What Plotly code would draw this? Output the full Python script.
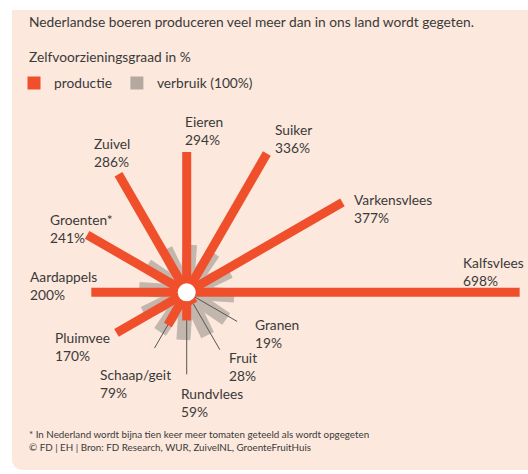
import numpy as np
import plotly.graph_objects as go

# ---------------- data ----------------
categories = ["Eieren", "Suiker", "Varkensvlees", "Kalfsvlees", "Granen", "Fruit",
              "Rundvlees", "Schaap/geit", "Pluimvee", "Aardappels", "Groenten*", "Zuivel"]
productie = [294, 336, 377, 698, 19, 28, 59, 79, 170, 200, 241, 286]
verbruik = [100, 100, 100, 100, 100, 100, 100, 100, 100, 100, 100, 100]

title_text = "Nederlandse boeren produceren veel meer dan in ons land wordt gegeten."
subtitle_text = "Zelfvoorzieningsgraad in %"
legend_names = ["productie", "verbruik (100%)"]
footnotes = ["* In Nederland wordt bijna tien keer meer tomaten geteeld als wordt opgegeten",
             "© FD | EH | Bron: FD Research, WUR, ZuivelNL, GroenteFruitHuis"]

# ---------------- layout / style ----------------
W, H = 528, 474
CX, CY = 186.7, 292.3          # centre of the star in pixels
K = 0.477                      # pixels per percent
ORANGE = "#F04F2C"
GREY = "#C3B6AD"
LEGEND_GREY = "#B5A8A0"
PANEL = "#FCE8DC"
TEXT = "#3A3A3A"
FONT = "Lato"
FS = 13.75
GREY_OFFSET_DEG = 4

# label anchor (left x, middle y) in pixels
LABEL_POS = {
    "Eieren": (183, 130), "Suiker": (273, 138), "Varkensvlees": (352, 208),
    "Kalfsvlees": (461, 271), "Granen": (253, 333), "Fruit": (227, 366),
    "Rundvlees": (179, 402), "Schaap/geit": (98, 383), "Pluimvee": (53, 346),
    "Aardappels": (28, 285), "Groenten*": (48, 228), "Zuivel": (92, 153),
}
# leader lines: category -> outer radius (percent units)
LEADER_END = {"Granen": 122, "Fruit": 139, "Rundvlees": 172, "Schaap/geit": 135}

n = len(categories)
step = 360.0 / n
angles = np.radians([90 - i * step for i in range(n)])
angles_grey = np.radians([90 - i * step - GREY_OFFSET_DEG for i in range(n)])


def segs(r0s, r1s, angs):
    xs, ys = [], []
    for a, b, t in zip(r0s, r1s, angs):
        xs += [a * np.cos(t), b * np.cos(t), None]
        ys += [a * np.sin(t), b * np.sin(t), None]
    return xs, ys


fig = go.Figure()

gx, gy = segs([0] * n, verbruik, angles_grey)
fig.add_trace(go.Scatter(x=gx, y=gy, mode="lines", line=dict(color=GREY, width=14),
                         showlegend=False, hoverinfo="skip"))

ox, oy = segs([0] * n, productie, angles)
fig.add_trace(go.Scatter(x=ox, y=oy, mode="lines", line=dict(color=ORANGE, width=9),
                         showlegend=False, hoverinfo="skip"))

lead_idx = [categories.index(c) for c in LEADER_END]
lx, ly = segs([productie[i] for i in lead_idx], list(LEADER_END.values()),
              [angles[i] for i in lead_idx])
fig.add_trace(go.Scatter(x=lx, y=ly, mode="lines", line=dict(color="#555555", width=1),
                         showlegend=False, hoverinfo="skip"))

fig.add_trace(go.Scatter(x=[0], y=[0], mode="markers",
                         marker=dict(size=18, color="white"),
                         showlegend=False, hoverinfo="skip"))

# legend entries
fig.add_trace(go.Scatter(x=[None], y=[None], mode="markers", name=legend_names[0],
                         marker=dict(symbol="square", size=13, color=ORANGE)))
fig.add_trace(go.Scatter(x=[None], y=[None], mode="markers", name=legend_names[1],
                         marker=dict(symbol="square", size=13, color=LEGEND_GREY)))


def px(x):
    return x / W


def py(y):
    return 1 - y / H


annotations = []
for cat, val in zip(categories, productie):
    x, y = LABEL_POS[cat]
    annotations.append(dict(x=px(x), y=py(y), xref="paper", yref="paper",
                            text=f"{cat}<br>{val}%", showarrow=False,
                            xanchor="left", yanchor="middle", align="left",
                            font=dict(family=FONT, size=FS, color=TEXT)))
annotations.append(dict(x=px(27), y=py(22), xref="paper", yref="paper", text=title_text,
                        showarrow=False, xanchor="left", yanchor="middle",
                        font=dict(family=FONT, size=FS, color=TEXT)))
annotations.append(dict(x=px(27), y=py(56), xref="paper", yref="paper", text=subtitle_text,
                        showarrow=False, xanchor="left", yanchor="middle",
                        font=dict(family=FONT, size=FS, color=TEXT)))
annotations.append(dict(x=px(27), y=py(440), xref="paper", yref="paper",
                        text="<br>".join(footnotes), showarrow=False,
                        xanchor="left", yanchor="middle", align="left",
                        font=dict(family=FONT, size=9.8, color=TEXT)))

L, T, B, RAD = 12, 10, 470, 12
panel_path = (f"M {px(L)},{py(T)} L 1.05,{py(T)} L 1.05,{py(B)} L {px(L + RAD)},{py(B)} "
              f"Q {px(L)},{py(B)} {px(L)},{py(B - RAD)} Z")

fig.update_layout(
    width=W, height=H, margin=dict(l=0, r=0, t=0, b=0),
    paper_bgcolor="white", plot_bgcolor="rgba(0,0,0,0)",
    xaxis=dict(range=[-CX / K, (W - CX) / K], visible=False, fixedrange=True),
    yaxis=dict(range=[-(H - CY) / K, CY / K], visible=False, fixedrange=True),
    shapes=[dict(type="path", path=panel_path, xref="paper", yref="paper",
                 fillcolor=PANEL, line=dict(width=0), layer="below")],
    annotations=annotations,
    legend=dict(orientation="h", x=px(14), y=py(83), xanchor="left", yanchor="middle",
                bgcolor="rgba(0,0,0,0)", font=dict(family=FONT, size=FS, color=TEXT),
                itemclick=False, itemdoubleclick=False),
    showlegend=True,
    hovermode=False,
)

fig.write_html("out.html", config={"displayModeBar": False},
               post_script="document.body.style.margin='0';document.body.style.overflow='hidden';")
